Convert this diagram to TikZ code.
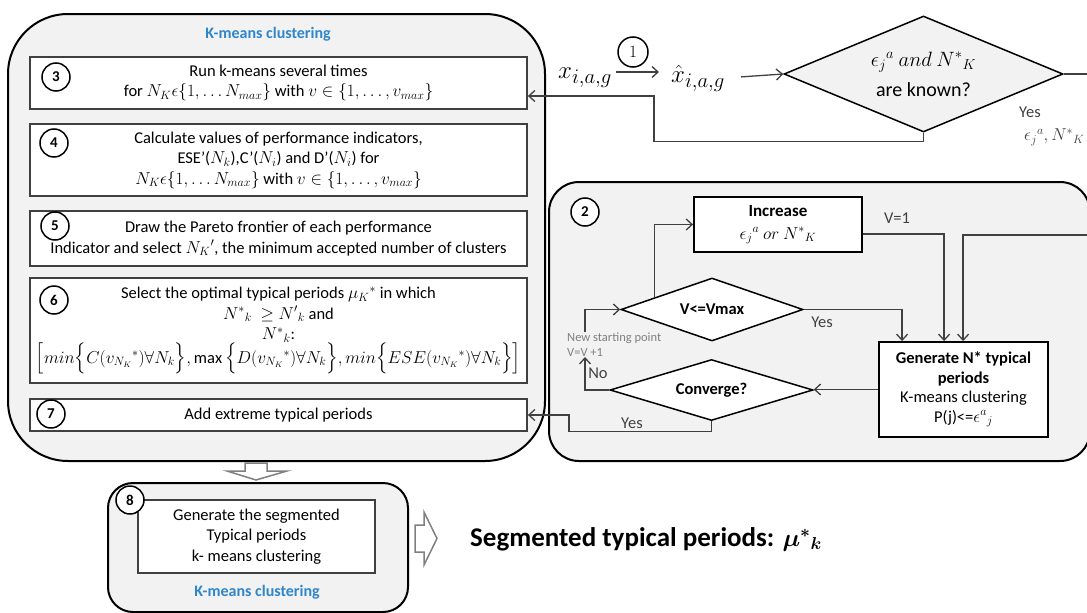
\documentclass[tikz,border=0pt]{standalone}
\usepackage{amsmath}
\usepackage{fontspec}
\setmainfont{Carlito}
\usetikzlibrary{shapes.geometric,arrows.meta,calc}
\definecolor{boxgray}{HTML}{F2F2F2}
\definecolor{kblue}{RGB}{46,134,204}
\definecolor{linegray}{HTML}{404040}
\definecolor{hgray}{HTML}{808080}
\newcommand{\myfs}[2]{\fontsize{#1}{#2}\selectfont}
\tikzset{
  panel/.style={draw=black, line width=2pt, fill=boxgray},
  stepbox/.style={draw=linegray, line width=1.8pt, fill=white, align=center, inner sep=0pt, font=\myfs{16.5}{20.5}},
  num/.style={circle, draw=black, line width=1.5pt, fill=white, minimum size=28pt, inner sep=0pt, font=\bfseries\myfs{15}{15}},
  arr/.style={draw=linegray, line width=1.3pt, -{Straight Barb[length=6pt,width=11pt,line width=1.3pt]}},
  dia/.style={diamond, draw=black, line width=1.5pt, fill=white, inner sep=0pt, align=center},
  lbl/.style={font=\myfs{16.5}{20}, text=linegray},
  ktitle/.style={font=\bfseries\myfs{16}{16}, text=kblue},
  hollowarr/.style={draw=hgray, line width=1.5pt, fill=white, line join=miter}
}
\begin{document}
\begin{tikzpicture}[x=1pt,y=-1pt]
\useasboundingbox (0,0) rectangle (1087,613);
\clip (0,0) rectangle (1087,613);
% ---------- left panel
\node[panel, rounded corners=60pt, minimum width=537pt, minimum height=447pt] (kbox) at (276.5,237.5) {};
\node[ktitle] (kt) at (268,34) {K-means clustering};
\node[stepbox, minimum width=497pt, minimum height=52pt] (b3) at (278.5,83) {Run k-means several times\\ for $N_K\epsilon\{1,\ldots N_{max}\}$ with $v\in\{1,\ldots,v_{max}\}$};
\node[stepbox, minimum width=497pt, minimum height=72pt] (b4) at (278.5,160) {Calculate values of performance indicators,\\ ESE’($N_k$),C’($N_i$) and D’($N_i$) for\\ $N_K\epsilon\{1,\ldots N_{max}\}$ with $v\in\{1,\ldots,v_{max}\}$};
\node[stepbox, minimum width=497pt, minimum height=55pt] (b5) at (278.5,238.5) {Draw the Pareto frontier of each performance\\ Indicator and select $N_K{}'$, the minimum accepted number of clusters};
\node[stepbox, minimum width=497pt, minimum height=105pt] (b6) at (278.5,330.5) {Select the optimal typical periods $\mu_K{}^*$ in which\\ $N^*{}_k\ \geq N'{}_k$ and\\ $N^*{}_k$:\\ $\Big[min\Big\{C(v_{N_K}{}^*)\forall N_k\Big\},\max\Big\{D(v_{N_K}{}^*)\forall N_k\Big\},min\Big\{ESE(v_{N_K}{}^*)\forall N_k\Big\}\Big]$};
\node[stepbox, minimum width=497pt, minimum height=32pt] (b7) at (278.5,415) {Add extreme typical periods};
\node[num] (n3) at (56,77) {3};
\node[num] (n4) at (54,143) {4};
\node[num] (n5) at (55,226) {5};
\node[num] (n6) at (54,300) {6};
\node[num] (n7) at (51,414) {7};
% ---------- right panel
\node[panel, rounded corners=30pt, minimum width=541pt, minimum height=279pt] (kbox2) at (819.5,321.5) {};
\node[num] (n2) at (585,212) {2};
\node[stepbox, draw=black, minimum width=168pt, minimum height=55pt, font=\myfs{17}{23}] (inc) at (778,224.5) {\textbf{Increase}\\ $\epsilon_j{}^a\ or\ N^*{}_K$};
\node[stepbox, draw=black, minimum width=169pt, minimum height=95pt, font=\myfs{16.5}{19.5}] (gen) at (963.5,389.5) {\textbf{Generate N* typical}\\ \textbf{periods}\\ K-means clustering\\ P(j)<=$\epsilon^a{}_j$};
\node[dia, minimum width=182pt, minimum height=63pt, aspect=2.9, font=\bfseries\myfs{16.5}{16.5}] (vd) at (712,309.5) {V<=Vmax};
\node[dia, minimum width=203pt, minimum height=61pt, aspect=3.3, font=\bfseries\myfs{16.5}{16.5}] (conv) at (711.5,390) {Converge?};
% ---------- top row
\node[font=\myfs{28}{28}, inner sep=0pt] (x) at (585,78) {$x_{i,a,g}$};
\node[num, minimum size=30pt, font=\myfs{16}{16}] (n1) at (633,52) {$1$};
\node[font=\myfs{28}{28}, inner sep=0pt] (xh) at (698,78) {$\hat{x}_{i,a,g}$};
\node[dia, fill=boxgray, minimum width=279pt, minimum height=116pt, aspect=2.4, font=\myfs{20}{30}] (d1) at (923.5,74) {$\epsilon_j{}^a\ and\ N^*{}_K$\\ are known?};
% ---------- coordinates
\coordinate (c1) at (654,96);
\coordinate (cg0) at ($(gen.north west)+(24,0)$);
\coordinate (cg1) at ($(gen.north west)+(66,0)$);
\coordinate (cg2) at ($(gen.north west)+(85,0)$);
\coordinate (vp) at ($(vd.west)!0.374!(vd.north)$);
\coordinate (ns) at (585,357);
\coordinate (ns2) at (585,332);
\coordinate (c7) at ($(b7.east)+(41,0)$);
\coordinate (r1) at (1100,74);
\coordinate (r2) at (1100,235);
% ---------- connectors
\draw[arr, shorten <=4pt, shorten >=12pt] ([yshift=6pt]x.east) -- ([yshift=6pt]x.east -| xh.west);
\draw[arr, shorten <=16pt] (xh.east) -- (d1.west);
\draw[arr] (d1.south) -- ++(0,9) -| (c1) -- (c1 -| b3.east);
\draw[arr] (d1.east) -- (r1) -- (r2) -| (cg2);
\draw[arr] (vp) |- (inc.west);
\draw[arr] ($(inc.east)+(0,9.5)$) -| (cg1);
\draw[arr] (vd.east) -| (cg0);
\draw[arr] (gen.west) -- (gen.west -| conv.east);
\draw[arr] (conv.west) -| (ns);
\draw[arr] (ns2) |- (vd.west);
\draw[arr] (conv.south) -- ++(0,10) -| (c7) -- (b7.east);
% ---------- labels
\node[lbl] (lv1) at (897,218) {V=1};
\node[lbl] (ly1) at (822,322) {Yes};
\node[lbl] (lno) at (598,373) {No};
\node[lbl] (ly2) at (632,423) {Yes};
\node[font=\myfs{12.5}{14}, text=hgray, anchor=west, inner sep=0pt] (lns) at (567,338) {New starting point};
\node[font=\myfs{12.5}{14}, text=hgray, anchor=west, inner sep=0pt] (lvv) at (567,352) {V=V +1};
\node[lbl, anchor=west, inner sep=0pt] (ly3) at (1019,112) {Yes};
\node[anchor=west, inner sep=0pt, font=\myfs{17}{17}, text=linegray] (leps) at (1024,137) {$\epsilon_j{}^a,N^*{}_K$};
% ---------- bottom
\draw[hollowarr] (245,463) -- (267,463) -- (267,471) -- (287,471) -- (256,480) -- (227,471) -- (245,471) -- cycle;
\node[panel, rounded corners=25pt, minimum width=300pt, minimum height=129pt] (b8o) at (258,547.5) {};
\node[stepbox, minimum width=237pt, minimum height=73pt] (b8) at (256.5,536.5) {Generate the segmented\\ Typical periods\\ k- means clustering};
\node[num] (n8) at (130,500) {8};
\node[ktitle] (kt2) at (257,592) {K-means clustering};
\draw[hollowarr] (415,525) -- (424,525) -- (424,512) -- (437,538.5) -- (424,565) -- (424,552) -- (415,552) -- cycle;
\node[anchor=west, inner sep=0pt, font=\bfseries\myfs{27}{27}] (seg) at (470,539) {Segmented typical periods: $\boldsymbol{\mu^*{}_k}$};
\end{tikzpicture}
\end{document}
